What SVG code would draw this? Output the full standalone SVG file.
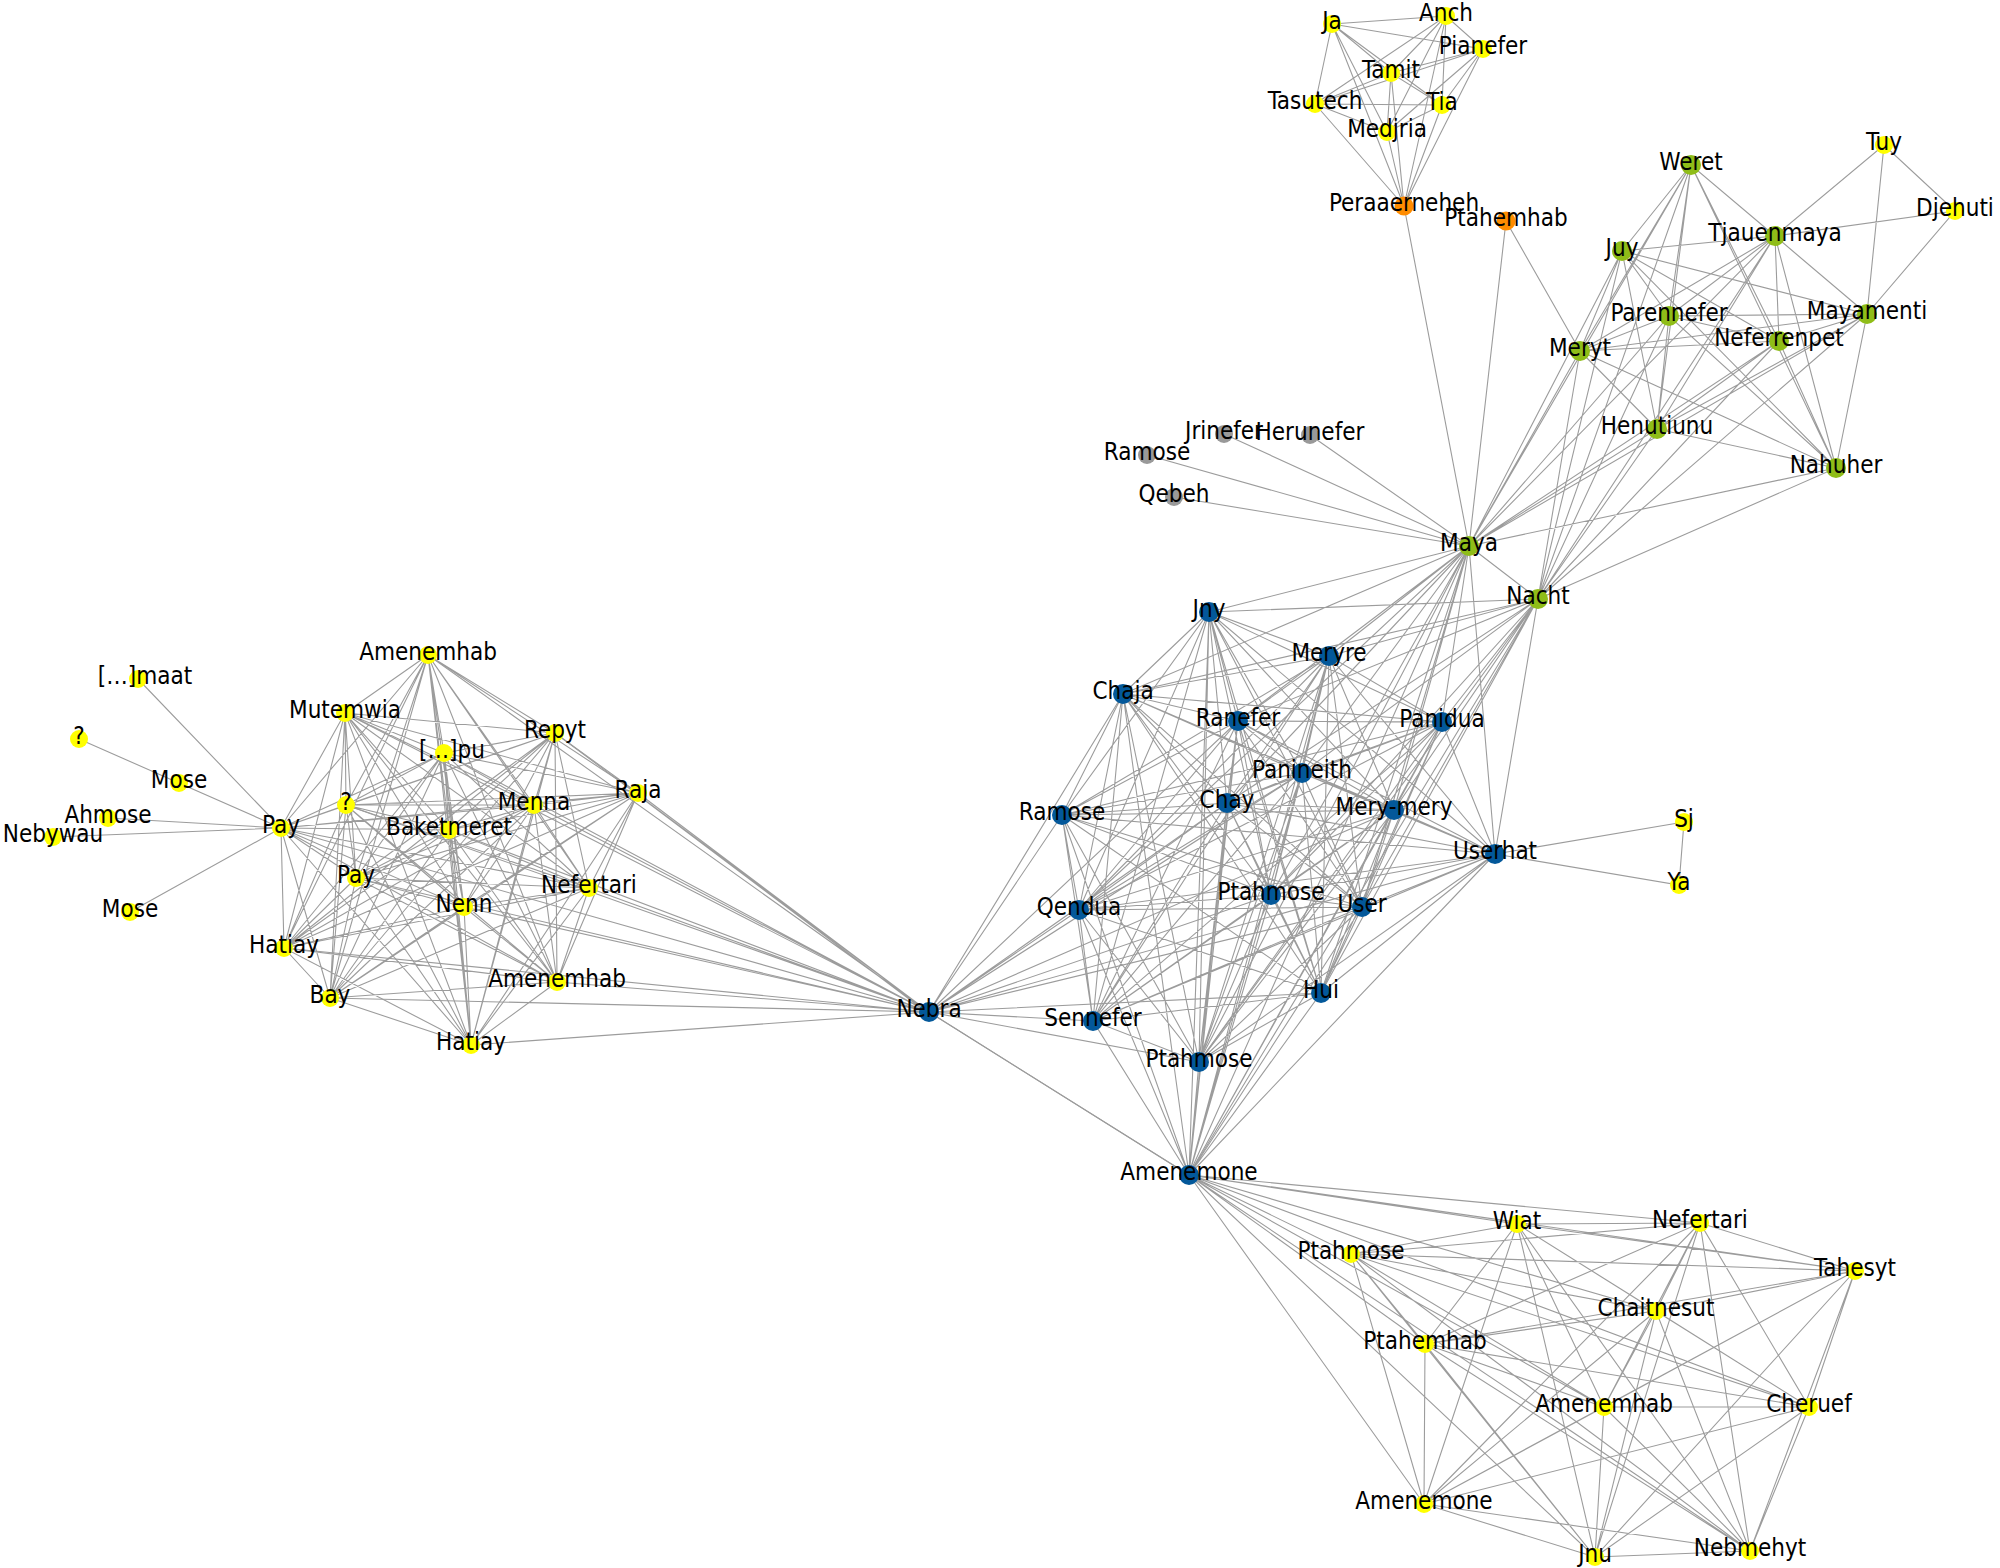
<svg xmlns="http://www.w3.org/2000/svg" width="2000" height="1568" viewBox="0 0 2000 1568">
<style>
.e{fill:none;stroke:#9c9c9c;stroke-width:1.1}
.y{fill:#ffff00}.b{fill:#03589a}.g{fill:#8fbd18}.o{fill:#ff8c00}.s{fill:#999999}
text{font-family:"DejaVu Sans Condensed","DejaVu Sans","Liberation Sans",sans-serif;font-stretch:condensed;font-size:24px;fill:#000;text-anchor:middle}
</style>
<rect width="2000" height="1568" fill="#fff"/>
<g id="connectors">
<path class="e" d="M1446 16L1332 24L1483 49M1391 73L1332 24L1315 104M1442 105L1332 24L1387 132M1404 206L1332 24M1483 49L1446 16L1391 73M1315 104L1446 16L1442 105M1387 132L1446 16L1404 206M1391 73L1483 49L1315 104M1442 105L1483 49L1387 132M1404 206L1483 49M1315 104L1391 73L1442 105M1387 132L1391 73L1404 206M1442 105L1315 104L1387 132M1404 206L1315 104M1387 132L1442 105L1404 206M1387 132L1404 206L1469 546M1469 546L1506 221L1580 351"/>
<path class="e" d="M1775 236L1691 165L1622 251M1669 316L1691 165L1867 314M1779 341L1691 165L1580 351M1657 429L1691 165L1836 468M1469 546L1691 165L1538 599M1622 251L1775 236L1669 316M1867 314L1775 236L1779 341M1580 351L1775 236L1657 429M1836 468L1775 236L1469 546M1538 599L1775 236M1669 316L1622 251L1867 314M1779 341L1622 251L1580 351M1657 429L1622 251L1836 468M1469 546L1622 251L1538 599M1867 314L1669 316L1779 341M1580 351L1669 316L1657 429M1836 468L1669 316L1469 546M1538 599L1669 316M1779 341L1867 314L1580 351M1657 429L1867 314L1836 468M1469 546L1867 314L1538 599M1580 351L1779 341L1657 429M1836 468L1779 341L1469 546M1538 599L1779 341M1657 429L1580 351L1836 468M1469 546L1580 351L1538 599M1836 468L1657 429L1469 546M1538 599L1657 429M1469 546L1836 468L1538 599M1469 546L1538 599M1775 236L1884 145L1955 211M1867 314L1884 145M1775 236L1955 211L1867 314M1224 434L1469 546M1310 435L1469 546M1147 455L1469 546M1174 497L1469 546"/>
<path class="e" d="M1329 656L1209 612L1123 694M1238 721L1209 612L1442 722M1302 773L1209 612L1062 815M1227 803L1209 612L1394 810M1495 854L1209 612L1271 895M1362 907L1209 612L1079 910M1321 993L1209 612L1093 1021M1199 1062L1209 612L1189 1175M1123 694L1329 656L1238 721M1442 722L1329 656L1302 773M1062 815L1329 656L1227 803M1394 810L1329 656L1495 854M1271 895L1329 656L1362 907M1079 910L1329 656L1321 993M1093 1021L1329 656L1199 1062M1189 1175L1329 656M1238 721L1123 694L1442 722M1302 773L1123 694L1062 815M1227 803L1123 694L1394 810M1495 854L1123 694L1271 895M1362 907L1123 694L1079 910M1321 993L1123 694L1093 1021M1199 1062L1123 694L1189 1175M1442 722L1238 721L1302 773M1062 815L1238 721L1227 803M1394 810L1238 721L1495 854M1271 895L1238 721L1362 907M1079 910L1238 721L1321 993M1093 1021L1238 721L1199 1062M1189 1175L1238 721M1302 773L1442 722L1062 815M1227 803L1442 722L1394 810M1495 854L1442 722L1271 895M1362 907L1442 722L1079 910M1321 993L1442 722L1093 1021M1199 1062L1442 722L1189 1175M1062 815L1302 773L1227 803M1394 810L1302 773L1495 854M1271 895L1302 773L1362 907M1079 910L1302 773L1321 993M1093 1021L1302 773L1199 1062M1189 1175L1302 773M1227 803L1062 815L1394 810M1495 854L1062 815L1271 895M1362 907L1062 815L1079 910M1321 993L1062 815L1093 1021M1199 1062L1062 815L1189 1175M1394 810L1227 803L1495 854M1271 895L1227 803L1362 907M1079 910L1227 803L1321 993M1093 1021L1227 803L1199 1062M1189 1175L1227 803M1495 854L1394 810L1271 895M1362 907L1394 810L1079 910M1321 993L1394 810L1093 1021M1199 1062L1394 810L1189 1175M1271 895L1495 854L1362 907M1079 910L1495 854L1321 993M1093 1021L1495 854L1199 1062M1189 1175L1495 854M1362 907L1271 895L1079 910M1321 993L1271 895L1093 1021M1199 1062L1271 895L1189 1175M1079 910L1362 907L1321 993M1093 1021L1362 907L1199 1062M1189 1175L1362 907M1321 993L1079 910L1093 1021M1199 1062L1079 910L1189 1175M1093 1021L1321 993L1199 1062M1189 1175L1321 993M1199 1062L1093 1021L1189 1175M1199 1062L1189 1175"/>
<path class="e" d="M1209 612L1469 546L1329 656M1123 694L1469 546L1238 721M1442 722L1469 546L1302 773M1227 803L1469 546L1394 810M1495 854L1469 546L1271 895M1362 907L1469 546L1079 910M1321 993L1469 546L1199 1062M1189 1175L1469 546M1209 612L1538 599L1329 656M1123 694L1538 599L1238 721M1442 722L1538 599L1302 773M1227 803L1538 599L1394 810M1495 854L1538 599L1271 895M1362 907L1538 599L1321 993M1199 1062L1538 599L1189 1175M1684 822L1495 854L1679 885L1684 822"/>
<path class="e" d="M1123 694L929 1012L1062 815M1079 910L929 1012L1093 1021M1199 1062L929 1012L1321 993M1271 895L929 1012L1227 803M1362 907L929 1012L1302 773M1394 810L929 1012L1495 854M1189 1175L929 1012L1238 721"/>
<path class="e" d="M345 713L428 655L444 753M555 733L428 655L346 805M534 805L428 655L638 793M449 830L428 655L356 878M464 907L428 655L589 888M284 948L428 655L330 998M557 982L428 655L471 1045M281 828L428 655M444 753L345 713L555 733M346 805L345 713L534 805M638 793L345 713L449 830M356 878L345 713L464 907M589 888L345 713L284 948M330 998L345 713L557 982M471 1045L345 713L281 828M555 733L444 753L346 805M534 805L444 753L638 793M449 830L444 753L356 878M464 907L444 753L589 888M284 948L444 753L330 998M557 982L444 753L471 1045M281 828L444 753M346 805L555 733L534 805M638 793L555 733L449 830M356 878L555 733L464 907M589 888L555 733L284 948M330 998L555 733L557 982M471 1045L555 733L281 828M534 805L346 805L638 793M449 830L346 805L356 878M464 907L346 805L589 888M284 948L346 805L330 998M557 982L346 805L471 1045M281 828L346 805M638 793L534 805L449 830M356 878L534 805L464 907M589 888L534 805L284 948M330 998L534 805L557 982M471 1045L534 805L281 828M449 830L638 793L356 878M464 907L638 793L589 888M284 948L638 793L330 998M557 982L638 793L471 1045M281 828L638 793M356 878L449 830L464 907M589 888L449 830L284 948M330 998L449 830L557 982M471 1045L449 830L281 828M464 907L356 878L589 888M284 948L356 878L330 998M557 982L356 878L471 1045M281 828L356 878M589 888L464 907L284 948M330 998L464 907L557 982M471 1045L464 907L281 828M284 948L589 888L330 998M557 982L589 888L471 1045M281 828L589 888M330 998L284 948L557 982M471 1045L284 948L281 828M557 982L330 998L471 1045M281 828L330 998M471 1045L557 982L281 828M471 1045L281 828M138 679L281 828L79 739M179 783L281 828L108 818M53 837L281 828L130 912"/>
<path class="e" d="M428 655L929 1012L345 713M444 753L929 1012L555 733M346 805L929 1012L534 805M638 793L929 1012L449 830M356 878L929 1012L464 907M589 888L929 1012L284 948M330 998L929 1012L557 982M471 1045L929 1012L281 828M639 796L929 1014M1189 1175L929 1012"/>
<path class="e" d="M1700 1223L1517 1224L1351 1254M1855 1271L1517 1224L1656 1311M1425 1344L1517 1224L1604 1407M1809 1407L1517 1224L1424 1504M1595 1557L1517 1224L1750 1551M1351 1254L1700 1223L1855 1271M1656 1311L1700 1223L1425 1344M1604 1407L1700 1223L1809 1407M1424 1504L1700 1223L1595 1557M1750 1551L1700 1223M1855 1271L1351 1254L1656 1311M1425 1344L1351 1254L1604 1407M1809 1407L1351 1254L1424 1504M1595 1557L1351 1254L1750 1551M1656 1311L1855 1271L1425 1344M1604 1407L1855 1271L1809 1407M1424 1504L1855 1271L1595 1557M1750 1551L1855 1271M1425 1344L1656 1311L1604 1407M1809 1407L1656 1311L1424 1504M1595 1557L1656 1311L1750 1551M1604 1407L1425 1344L1809 1407M1424 1504L1425 1344L1595 1557M1750 1551L1425 1344M1809 1407L1604 1407L1424 1504M1595 1557L1604 1407L1750 1551M1424 1504L1809 1407L1595 1557M1750 1551L1809 1407M1595 1557L1424 1504L1750 1551M1595 1557L1750 1551M1517 1224L1189 1175L1700 1223M1351 1254L1189 1175L1855 1271M1656 1311L1189 1175L1425 1344M1604 1407L1189 1175L1809 1407M1424 1504L1189 1175L1595 1557M1750 1551L1189 1175"/>
</g>
<g id="n-ja"><circle class="y" cx="1332" cy="24" r="9"/><text x="1332" y="29">Ja</text></g>
<g id="n-anch"><circle class="y" cx="1446" cy="16" r="9"/><text x="1446" y="21">Anch</text></g>
<g id="n-pianefer"><circle class="y" cx="1483" cy="49" r="9"/><text x="1483" y="54">Pianefer</text></g>
<g id="n-tamit"><circle class="y" cx="1391" cy="73" r="9"/><text x="1391" y="78">Tamit</text></g>
<g id="n-tasutech"><circle class="y" cx="1315" cy="104" r="9"/><text x="1315" y="109">Tasutech</text></g>
<g id="n-tia"><circle class="y" cx="1442" cy="105" r="9"/><text x="1442" y="110">Tia</text></g>
<g id="n-medjria"><circle class="y" cx="1387" cy="132" r="9"/><text x="1387" y="137">Medjria</text></g>
<g id="n-peraaerneheh"><circle class="o" cx="1404" cy="206" r="9.5"/><text x="1404" y="211">Peraaerneheh</text></g>
<g id="n-ptahemhab-o"><circle class="o" cx="1506" cy="221" r="9.5"/><text x="1506" y="226">Ptahemhab</text></g>
<g id="n-weret"><circle class="g" cx="1691" cy="165" r="10"/><text x="1691" y="170">Weret</text></g>
<g id="n-tuy"><circle class="y" cx="1884" cy="145" r="9"/><text x="1884" y="150">Tuy</text></g>
<g id="n-djehuti"><circle class="y" cx="1955" cy="211" r="9"/><text x="1955" y="216">Djehuti</text></g>
<g id="n-tjauenmaya"><circle class="g" cx="1775" cy="236" r="10"/><text x="1775" y="241">Tjauenmaya</text></g>
<g id="n-juy"><circle class="g" cx="1622" cy="251" r="10"/><text x="1622" y="256">Juy</text></g>
<g id="n-parennefer"><circle class="g" cx="1669" cy="316" r="10"/><text x="1669" y="321">Parennefer</text></g>
<g id="n-mayamenti"><circle class="g" cx="1867" cy="314" r="10"/><text x="1867" y="319">Mayamenti</text></g>
<g id="n-neferrenpet"><circle class="g" cx="1779" cy="341" r="10"/><text x="1779" y="346">Neferrenpet</text></g>
<g id="n-meryt"><circle class="g" cx="1580" cy="351" r="10"/><text x="1580" y="356">Meryt</text></g>
<g id="n-henutiunu"><circle class="g" cx="1657" cy="429" r="10"/><text x="1657" y="434">Henutiunu</text></g>
<g id="n-nahuher"><circle class="g" cx="1836" cy="468" r="10"/><text x="1836" y="473">Nahuher</text></g>
<g id="n-jrinefer"><circle class="s" cx="1224" cy="434" r="9"/><text x="1224" y="439">Jrinefer</text></g>
<g id="n-herunefer"><circle class="s" cx="1310" cy="435" r="9"/><text x="1310" y="440">Herunefer</text></g>
<g id="n-ramose-g"><circle class="s" cx="1147" cy="455" r="9"/><text x="1147" y="460">Ramose</text></g>
<g id="n-qebeh"><circle class="s" cx="1174" cy="497" r="9"/><text x="1174" y="502">Qebeh</text></g>
<g id="n-maya"><circle class="g" cx="1469" cy="546" r="10"/><text x="1469" y="551">Maya</text></g>
<g id="n-nacht"><circle class="g" cx="1538" cy="599" r="10"/><text x="1538" y="604">Nacht</text></g>
<g id="n-jny"><circle class="b" cx="1209" cy="612" r="10"/><text x="1209" y="617">Jny</text></g>
<g id="n-meryre"><circle class="b" cx="1329" cy="656" r="10"/><text x="1329" y="661">Meryre</text></g>
<g id="n-chaja"><circle class="b" cx="1123" cy="694" r="10"/><text x="1123" y="699">Chaja</text></g>
<g id="n-ranefer"><circle class="b" cx="1238" cy="721" r="10"/><text x="1238" y="726">Ranefer</text></g>
<g id="n-panidua"><circle class="b" cx="1442" cy="722" r="10"/><text x="1442" y="727">Panidua</text></g>
<g id="n-panineith"><circle class="b" cx="1302" cy="773" r="10"/><text x="1302" y="778">Panineith</text></g>
<g id="n-ramose-b"><circle class="b" cx="1062" cy="815" r="10"/><text x="1062" y="820">Ramose</text></g>
<g id="n-chay"><circle class="b" cx="1227" cy="803" r="10"/><text x="1227" y="808">Chay</text></g>
<g id="n-merymery"><circle class="b" cx="1394" cy="810" r="10"/><text x="1394" y="815">Mery-mery</text></g>
<g id="n-userhat"><circle class="b" cx="1495" cy="854" r="10"/><text x="1495" y="859">Userhat</text></g>
<g id="n-ptahmose-1"><circle class="b" cx="1271" cy="895" r="10"/><text x="1271" y="900">Ptahmose</text></g>
<g id="n-user"><circle class="b" cx="1362" cy="907" r="10"/><text x="1362" y="912">User</text></g>
<g id="n-qendua"><circle class="b" cx="1079" cy="910" r="10"/><text x="1079" y="915">Qendua</text></g>
<g id="n-hui"><circle class="b" cx="1321" cy="993" r="10"/><text x="1321" y="998">Hui</text></g>
<g id="n-sennefer"><circle class="b" cx="1093" cy="1021" r="10"/><text x="1093" y="1026">Sennefer</text></g>
<g id="n-ptahmose-2"><circle class="b" cx="1199" cy="1062" r="10"/><text x="1199" y="1067">Ptahmose</text></g>
<g id="n-nebra"><circle class="b" cx="929" cy="1012" r="10"/><text x="929" y="1017">Nebra</text></g>
<g id="n-amenemone-b"><circle class="b" cx="1189" cy="1175" r="10"/><text x="1189" y="1180">Amenemone</text></g>
<g id="n-sj"><circle class="y" cx="1684" cy="822" r="9"/><text x="1684" y="827">Sj</text></g>
<g id="n-ya"><circle class="y" cx="1679" cy="885" r="9"/><text x="1679" y="890">Ya</text></g>
<g id="n-amenemhab-1"><circle class="y" cx="428" cy="655" r="9"/><text x="428" y="660">Amenemhab</text></g>
<g id="n-maat"><circle class="y" cx="138" cy="679" r="9"/><text x="145" y="684">[…]maat</text></g>
<g id="n-q1"><circle class="y" cx="79" cy="739" r="9"/><text x="79" y="744">?</text></g>
<g id="n-mose-1"><circle class="y" cx="179" cy="783" r="9"/><text x="179" y="788">Mose</text></g>
<g id="n-ahmose"><circle class="y" cx="108" cy="818" r="9"/><text x="108" y="823">Ahmose</text></g>
<g id="n-nebywau"><circle class="y" cx="53" cy="837" r="9"/><text x="53" y="842">Nebywau</text></g>
<g id="n-mose-2"><circle class="y" cx="130" cy="912" r="9"/><text x="130" y="917">Mose</text></g>
<g id="n-pay-1"><circle class="y" cx="281" cy="828" r="9"/><text x="281" y="833">Pay</text></g>
<g id="n-mutemwia"><circle class="y" cx="345" cy="713" r="9"/><text x="345" y="718">Mutemwia</text></g>
<g id="n-pu"><circle class="y" cx="444" cy="753" r="9"/><text x="452" y="758">[…]pu</text></g>
<g id="n-repyt"><circle class="y" cx="555" cy="733" r="9"/><text x="555" y="738">Repyt</text></g>
<g id="n-q2"><circle class="y" cx="346" cy="805" r="9"/><text x="346" y="810">?</text></g>
<g id="n-menna"><circle class="y" cx="534" cy="805" r="9"/><text x="534" y="810">Menna</text></g>
<g id="n-raja"><circle class="y" cx="638" cy="793" r="9"/><text x="638" y="798">Raja</text></g>
<g id="n-baketmeret"><circle class="y" cx="449" cy="830" r="9"/><text x="449" y="835">Baketmeret</text></g>
<g id="n-pay-2"><circle class="y" cx="356" cy="878" r="9"/><text x="356" y="883">Pay</text></g>
<g id="n-nenn"><circle class="y" cx="464" cy="907" r="9"/><text x="464" y="912">Nenn</text></g>
<g id="n-nefertari-l"><circle class="y" cx="589" cy="888" r="9"/><text x="589" y="893">Nefertari</text></g>
<g id="n-hatiay-1"><circle class="y" cx="284" cy="948" r="9"/><text x="284" y="953">Hatiay</text></g>
<g id="n-bay"><circle class="y" cx="330" cy="998" r="9"/><text x="330" y="1003">Bay</text></g>
<g id="n-amenemhab-2"><circle class="y" cx="557" cy="982" r="9"/><text x="557" y="987">Amenemhab</text></g>
<g id="n-hatiay-2"><circle class="y" cx="471" cy="1045" r="9"/><text x="471" y="1050">Hatiay</text></g>
<g id="n-wiat"><circle class="y" cx="1517" cy="1224" r="9"/><text x="1517" y="1229">Wiat</text></g>
<g id="n-nefertari-b"><circle class="y" cx="1700" cy="1223" r="9"/><text x="1700" y="1228">Nefertari</text></g>
<g id="n-ptahmose-b"><circle class="y" cx="1351" cy="1254" r="9"/><text x="1351" y="1259">Ptahmose</text></g>
<g id="n-tahesyt"><circle class="y" cx="1855" cy="1271" r="9"/><text x="1855" y="1276">Tahesyt</text></g>
<g id="n-chaitnesut"><circle class="y" cx="1656" cy="1311" r="9"/><text x="1656" y="1316">Chaitnesut</text></g>
<g id="n-ptahemhab-b"><circle class="y" cx="1425" cy="1344" r="9"/><text x="1425" y="1349">Ptahemhab</text></g>
<g id="n-amenemhab-b"><circle class="y" cx="1604" cy="1407" r="9"/><text x="1604" y="1412">Amenemhab</text></g>
<g id="n-cheruef"><circle class="y" cx="1809" cy="1407" r="9"/><text x="1809" y="1412">Cheruef</text></g>
<g id="n-amenemone-y"><circle class="y" cx="1424" cy="1504" r="9"/><text x="1424" y="1509">Amenemone</text></g>
<g id="n-jnu"><circle class="y" cx="1595" cy="1557" r="9"/><text x="1595" y="1562">Jnu</text></g>
<g id="n-nebmehyt"><circle class="y" cx="1750" cy="1551" r="9"/><text x="1750" y="1556">Nebmehyt</text></g>
</svg>
